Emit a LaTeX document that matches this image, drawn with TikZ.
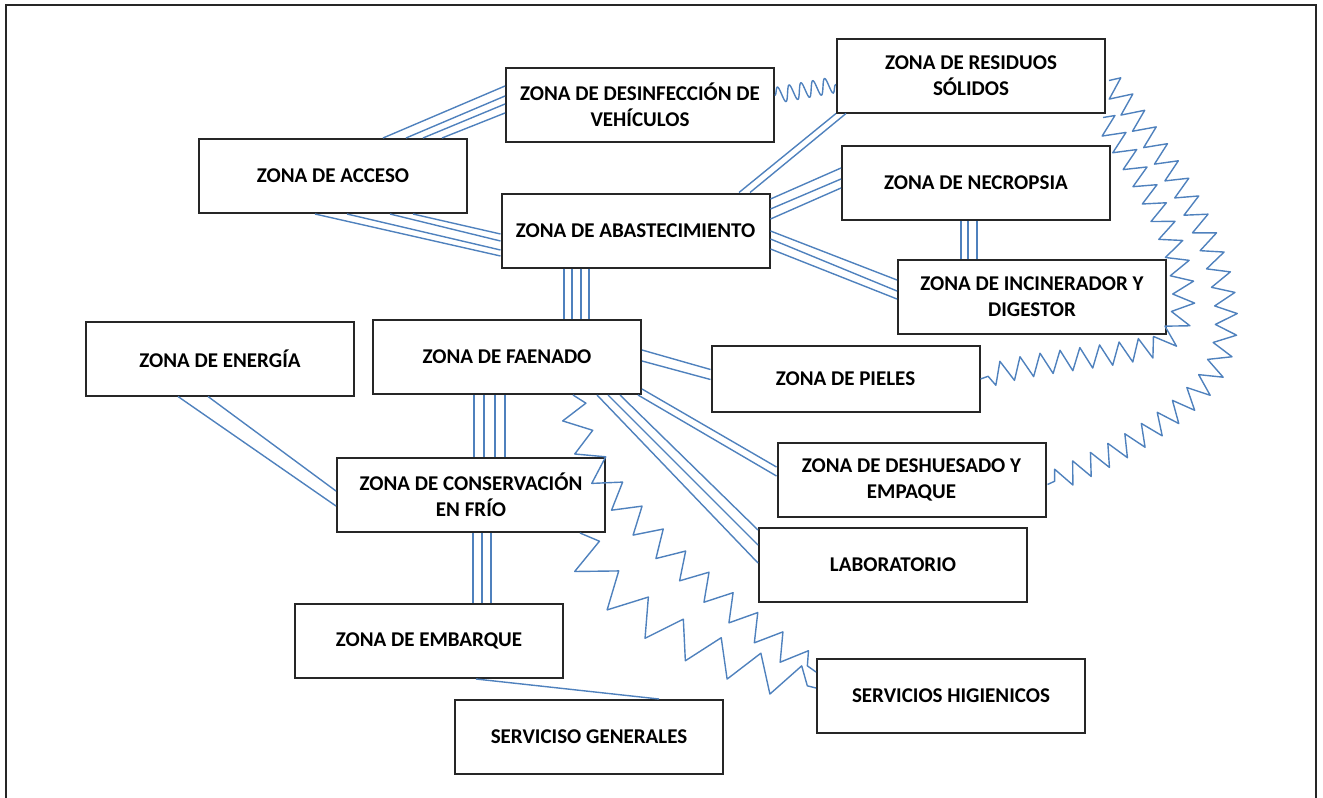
\documentclass[tikz,border=0pt]{standalone}
\usepackage{fontspec}
\setmainfont{Carlito}
\usetikzlibrary{positioning}
\usetikzlibrary{decorations.pathmorphing}
\definecolor{azul}{RGB}{79,129,189}

\begin{document}
\begin{tikzpicture}[x=0.5pt,y=-0.5pt,
zona/.style={draw=black!85,line width=1pt,minimum width=134pt,minimum height=37pt,
  inner sep=0pt,align=center,font=\bfseries\fontsize{10.5}{13}\selectfont},
cable/.style={draw=azul,line width=0.7pt},
onda/.style={draw=azul,line width=0.7pt,line join=round,decorate}]
\clip (0,0) rectangle (1323,798);
\draw[line width=1.2pt,black!85] (6,5) rectangle (1316,830);

\node[zona] (acceso)   at (333,176)   {ZONA DE ACCESO};
\node[zona] (desinf)   at (640,104.5) {ZONA DE DESINFECCIÓN DE\\VEHÍCULOS};
\node[zona] (residuos) at (971,75.5)  {ZONA DE RESIDUOS\\SÓLIDOS};
\node[zona] (necro)    at (976,183)   {ZONA DE NECROPSIA};
\node[zona] (abast)    at (635.5,230.5) {ZONA DE ABASTECIMIENTO};
\node[zona] (incin)    at (1032,297)  {ZONA DE INCINERADOR Y\\DIGESTOR};
\node[zona] (energia)  at (220,358.5) {ZONA DE ENERGÍA};
\node[zona] (faenado)  at (507,357)   {ZONA DE FAENADO};
\node[zona,minimum height=33pt] (pieles) at (845.5,379) {ZONA DE PIELES};
\node[zona] (deshues)  at (911.5,479.5) {ZONA DE DESHUESADO Y\\EMPAQUE};
\node[zona] (conserv)  at (471,495)   {ZONA DE CONSERVACIÓN\\EN FRÍO};
\node[zona] (lab)      at (893,565)   {LABORATORIO};
\node[zona] (embarque) at (429,641)   {ZONA DE EMBARQUE};
\node[zona] (servhig)  at (951,696)   {SERVICIOS HIGIENICOS};
\node[zona] (servgen)  at (589,737)   {SERVICISO GENERALES};

\draw[cable] ([shift={(50,0)}]acceso.north) -- ([shift={(0,-18.5)}]desinf.west)
  ([shift={(73,0)}]acceso.north) -- ([shift={(0,-8.5)}]desinf.west)
  ([shift={(90,0)}]acceso.north) -- ([shift={(0,-0.5)}]desinf.west)
  ([shift={(109,0)}]acceso.north) -- ([shift={(0,8.5)}]desinf.west);
\draw[cable] ([shift={(-18,0)}]acceso.south) -- ([shift={(0,25.5)}]abast.west)
  ([shift={(14,0)}]acceso.south) -- ([shift={(0,19.5)}]abast.west)
  ([shift={(57,0)}]acceso.south) -- ([shift={(0,10.5)}]abast.west)
  ([shift={(80,0)}]acceso.south) -- ([shift={(0,3.5)}]abast.west);
\draw[cable] ([shift={(103.5,0)}]abast.north) -- (residuos.south west)
  ([shift={(114.5,0)}]abast.north) -- ([shift={(10,0)}]residuos.south west);
\draw[cable] ([shift={(0,-31.5)}]abast.east) -- ([shift={(0,-15)}]necro.west)
  ([shift={(0,-21.5)}]abast.east) -- ([shift={(0,-4)}]necro.west)
  ([shift={(0,-11.5)}]abast.east) -- ([shift={(0,5)}]necro.west);
\draw[cable] ([shift={(0,0.5)}]abast.east) -- ([shift={(0,-17)}]incin.west)
  ([shift={(0,8.5)}]abast.east) -- ([shift={(0,-6)}]incin.west)
  ([shift={(0,18.5)}]abast.east) -- ([shift={(0,2)}]incin.west);
\draw[cable] ([shift={(-15,0)}]necro.south) -- ([shift={(-71,0)}]incin.north)
  ([shift={(-8,0)}]necro.south) -- ([shift={(-64,0)}]incin.north)
  ([shift={(1,0)}]necro.south) -- ([shift={(-55,0)}]incin.north);
\draw[cable] ([shift={(-71.5,0)}]abast.south) -- ([shift={(57,0)}]faenado.north)
  ([shift={(-63.5,0)}]abast.south) -- ([shift={(65,0)}]faenado.north)
  ([shift={(-54.5,0)}]abast.south) -- ([shift={(74,0)}]faenado.north)
  ([shift={(-46.5,0)}]abast.south) -- ([shift={(82,0)}]faenado.north);
\draw[cable] ([shift={(0,-7)}]faenado.east) -- ([shift={(0,-9.5)}]pieles.west)
  ([shift={(0,4)}]faenado.east) -- ([shift={(0,0.5)}]pieles.west);
\draw[cable] ([shift={(0,-6)}]faenado.south east) -- ([shift={(0,-12.5)}]deshues.west)
  ([shift={(-4,0)}]faenado.south east) -- ([shift={(0,-3.5)}]deshues.west);
\draw[cable] ([shift={(90,0)}]faenado.south) -- ([shift={(0,-2)}]lab.west)
  ([shift={(101,0)}]faenado.south) -- ([shift={(0,-20)}]lab.west)
  ([shift={(113,0)}]faenado.south) -- ([shift={(0,-35)}]lab.west);
\draw[cable] ([shift={(-33,0)}]faenado.south) -- ([shift={(3,0)}]conserv.north)
  ([shift={(-23,0)}]faenado.south) -- ([shift={(13,0)}]conserv.north)
  ([shift={(-12,0)}]faenado.south) -- ([shift={(24,0)}]conserv.north)
  ([shift={(-2,0)}]faenado.south) -- ([shift={(34,0)}]conserv.north);
\draw[cable] ([shift={(-42,0)}]energia.south) -- ([shift={(0,11)}]conserv.west)
  ([shift={(-12,0)}]energia.south) -- ([shift={(0,-4)}]conserv.west);
\draw[cable] ([shift={(2,0)}]conserv.south) -- ([shift={(44,0)}]embarque.north)
  ([shift={(11,0)}]conserv.south) -- ([shift={(53,0)}]embarque.north)
  ([shift={(20,0)}]conserv.south) -- ([shift={(62,0)}]embarque.north);
\draw[cable] ([shift={(47,0)}]embarque.south) -- ([shift={(70,0)}]servgen.north);

\draw[onda,decoration={snake,amplitude=4pt,segment length=6pt}]
  ([shift={(0,-9)}]desinf.east) -- ([shift={(0,9)}]residuos.west);
\draw[onda,decoration={zigzag,amplitude=5.5pt,segment length=10pt}]
  ([shift={(3,5)}]residuos.east) .. controls (1200,200) and (1265,320) .. (1200,390)
  .. controls (1150,440) and (1090,465) .. ([shift={(1,5)}]deshues.east);
\draw[onda,decoration={zigzag,amplitude=5.5pt,segment length=10pt}]
  ([shift={(-3,4)}]residuos.south east) .. controls (1165,210) and (1215,310) .. (1160,345)
  .. controls (1100,360) and (1030,360) .. (pieles.east);
\draw[onda,decoration={zigzag,amplitude=6.5pt,segment length=16pt}]
  ([shift={(66,0)}]faenado.south) .. controls (572,480) and (700,590) .. ([shift={(0,-24)}]servhig.west);
\draw[onda,decoration={zigzag,amplitude=9pt,segment length=22pt}]
  ([shift={(109,0)}]conserv.south) .. controls (590,600) and (700,660) .. ([shift={(0,-8)}]servhig.west);
\end{tikzpicture}
\end{document}
